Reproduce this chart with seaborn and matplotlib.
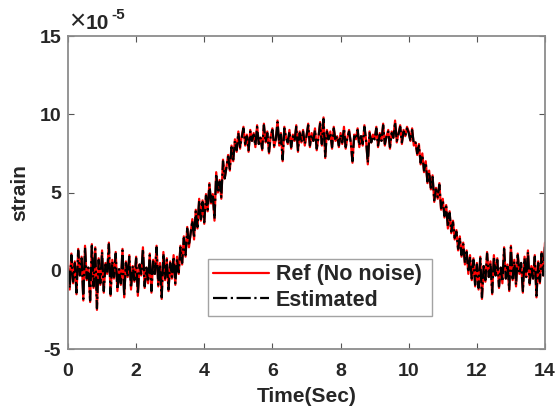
import numpy as np
import pandas as pd
import matplotlib
matplotlib.use("Agg")
import matplotlib.pyplot as plt
import seaborn as sns

# time axis: 0 .. 14 s, step 0.05 s
time_s = [round(i * 0.05, 2) for i in range(281)]

# strain values in units of 1e-5
ref_strain = [
    0.3, -1.2, 1.1, -0.8, 0.6, -1.5, 1.4, -0.3, 0.9, -1.9, 1.6, -0.6, 0.2, -2.0, 1.7, -1.1, 1.5, -2.5, 0.8, -0.9,
    1.3, -1.4, 0.5, -0.2, 1.8, -1.6, 0.7, -0.5, 1.2, -1.3, 0.1, -0.9, 1.4, -1.7, 0.6, -0.4, 1.0, -1.2, 0.3, -0.7,
    0.9, -1.6, 0.4, -0.3, 1.5, -1.1, 0.2, -0.8, 1.1, -1.4, 0.7, -0.2, 1.6, -1.0, 0.5, -1.8, 1.2, -0.6, 0.8, -1.3,
    0.6, -0.5, 1.0, -0.9, 0.9, -0.2, 1.6, 0.4, 2.2, 0.9, 2.8, 1.5, 2.4, 3.3, 2.0, 3.9, 2.7, 4.6, 3.2, 4.5,
    3.0, 4.9, 3.8, 5.6, 4.3, 4.9, 3.2, 6.3, 5.0, 5.8, 4.6, 7.1, 5.9, 6.6, 7.4, 6.4, 8.0, 7.0, 8.4, 7.6,
    8.9, 7.8, 8.6, 9.2, 8.0, 8.7, 7.6, 9.0, 8.3, 8.8, 7.9, 9.3, 8.1, 8.5, 7.7, 9.4, 8.2, 8.9, 7.5, 8.6,
    9.1, 7.9, 8.4, 9.6, 8.0, 8.8, 7.0, 9.2, 8.5, 8.1, 9.0, 7.8, 8.7, 8.3, 9.3, 7.6, 8.9, 8.2, 9.0, 8.0,
    8.6, 9.4, 7.9, 8.8, 8.3, 9.1, 7.7, 8.5, 9.5, 8.0, 9.8, 7.2, 9.0, 8.4, 8.9, 7.8, 9.2, 8.3, 8.6, 7.9,
    8.8, 8.1, 9.2, 7.8, 8.5, 9.0, 8.2, 6.9, 8.7, 8.4, 9.1, 7.9, 8.6, 8.0, 9.3, 8.3, 6.8, 8.9, 8.2, 8.7,
    8.4, 9.2, 7.9, 8.8, 8.3, 9.4, 8.0, 8.6, 9.0, 7.8, 8.9, 8.5, 9.6, 8.2, 8.8, 9.3, 8.1, 9.0, 8.6, 9.2,
    8.9, 8.3, 9.1, 8.0, 8.2, 7.4, 8.1, 6.8, 7.5, 6.3, 7.0, 5.6, 6.4, 5.2, 6.1, 4.4, 5.3, 4.6, 5.6, 3.9,
    4.6, 3.4, 4.2, 2.7, 3.8, 2.4, 3.2, 2.0, 2.6, 1.3, 2.2, 0.9, 1.8, 0.4, 1.3, -0.2, 1.0, -0.6, 0.8, -1.0,
    0.5, -1.2, 0.9, -1.8, 0.3, -0.7, 1.2, -0.4, 0.6, -1.5, 1.0, -0.3, 0.8, -1.1, 0.2, -0.8, 1.5, -0.5, 0.4, -1.3,
    1.6, -0.6, 0.7, -1.0, 1.1, -0.2, 0.5, -1.4, 0.9, -0.4, 1.3, -0.9, 0.3, -0.5, 1.0, -1.7, 0.6, -0.8, 1.2, -0.3,
    1.8,
]

est_strain = [
    0.2, -1.1, 1.0, -0.7, 0.5, -1.4, 1.3, -0.3, 0.8, -1.8, 1.5, -0.5, 0.2, -1.9, 1.6, -1.0, 1.4, -2.4, 0.7, -0.8,
    1.2, -1.3, 0.4, -0.2, 1.7, -1.5, 0.6, -0.4, 1.1, -1.2, 0.1, -0.8, 1.3, -1.6, 0.5, -0.4, 0.9, -1.1, 0.3, -0.6,
    0.8, -1.5, 0.4, -0.2, 1.4, -1.0, 0.2, -0.7, 1.0, -1.3, 0.6, -0.2, 1.5, -0.9, 0.4, -1.7, 1.1, -0.5, 0.7, -1.2,
    0.5, -0.4, 0.9, -0.8, 0.8, -0.1, 1.5, 0.5, 2.1, 1.0, 2.7, 1.6, 2.4, 3.2, 2.1, 3.8, 2.8, 4.5, 3.3, 4.4,
    3.1, 4.8, 3.9, 5.5, 4.4, 4.9, 3.3, 6.2, 5.0, 5.7, 4.7, 7.0, 5.9, 6.6, 7.3, 6.5, 7.9, 7.1, 8.3, 7.7,
    8.8, 7.9, 8.5, 9.1, 8.1, 8.6, 7.7, 8.9, 8.3, 8.7, 8.0, 9.2, 8.1, 8.5, 7.8, 9.3, 8.2, 8.8, 7.6, 8.6,
    9.0, 8.0, 8.4, 9.5, 8.1, 8.7, 7.1, 9.1, 8.5, 8.2, 8.9, 7.9, 8.6, 8.3, 9.2, 7.7, 8.8, 8.2, 8.9, 8.1,
    8.6, 9.3, 8.0, 8.7, 8.3, 9.0, 7.8, 8.5, 9.4, 8.1, 9.7, 7.3, 8.9, 8.4, 8.8, 7.9, 9.1, 8.3, 8.6, 8.0,
    8.7, 8.2, 9.1, 7.9, 8.5, 8.9, 8.2, 7.0, 8.6, 8.4, 9.0, 8.0, 8.6, 8.1, 9.2, 8.3, 6.9, 8.8, 8.2, 8.6,
    8.4, 9.1, 8.0, 8.7, 8.3, 9.3, 8.1, 8.6, 8.9, 7.9, 8.8, 8.5, 9.5, 8.3, 8.7, 9.2, 8.2, 8.9, 8.6, 9.1,
    8.8, 8.3, 9.0, 8.1, 8.2, 7.5, 8.0, 6.9, 7.4, 6.4, 6.9, 5.7, 6.3, 5.3, 6.0, 4.5, 5.2, 4.7, 5.5, 4.0,
    4.5, 3.5, 4.1, 2.8, 3.7, 2.5, 3.1, 2.1, 2.5, 1.4, 2.1, 1.0, 1.7, 0.5, 1.2, -0.1, 0.9, -0.5, 0.7, -0.9,
    0.4, -1.1, 0.8, -1.7, 0.3, -0.6, 1.1, -0.4, 0.5, -1.4, 0.9, -0.3, 0.7, -1.0, 0.2, -0.7, 1.4, -0.5, 0.4, -1.2,
    1.5, -0.5, 0.6, -0.9, 1.0, -0.2, 0.5, -1.3, 0.8, -0.4, 1.2, -0.8, 0.3, -0.5, 0.9, -1.6, 0.5, -0.7, 1.1, -0.3,
    1.6,
]

x_ticks = [0, 2, 4, 6, 8, 10, 12, 14]
y_ticks = [-5, 0, 5, 10, 15]

df = pd.DataFrame({"t": time_s, "ref": ref_strain, "est": est_strain})

sns.set_style("white")
plt.rcParams["font.family"] = ["Liberation Sans", "DejaVu Sans"]
plt.rcParams["font.weight"] = "bold"

TXT = "#262626"
fig = plt.figure(figsize=(5.6, 4.15), dpi=100)
ax = fig.add_axes([0.1214, 0.159, 0.8518, 0.7542])

sns.lineplot(data=df, x="t", y="ref", ax=ax, color="#ff0000", linewidth=1.6,
             label="Ref (No noise)", estimator=None)
sns.lineplot(data=df, x="t", y="est", ax=ax, color="black", linewidth=1.6,
             linestyle="-.", label="Estimated", estimator=None)

ax.set_xlim(0, 14)
ax.set_ylim(-5, 15)
ax.set_xticks(x_ticks)
ax.set_yticks(y_ticks)
ax.set_xticklabels([str(v) for v in x_ticks], fontsize=14, fontweight="bold", color=TXT)
ax.set_yticklabels([str(v) for v in y_ticks], fontsize=14, fontweight="bold", color=TXT)
ax.tick_params(direction="in", length=4, width=0.8, color="#555555",
               top=True, right=True, bottom=True, left=True, pad=5)
ax.tick_params(axis="x", pad=10)
for s in ax.spines.values():
    s.set_visible(True)
    s.set_color("#8c8c8c")
    s.set_linewidth(1.3)

ax.set_xlabel("Time(Sec)", fontsize=15, fontweight="bold", color=TXT, labelpad=5)
ax.set_ylabel("strain", fontsize=15, fontweight="bold", color=TXT, labelpad=7)

ax.text(0.002, 1.003, "\u00d7", transform=ax.transAxes, fontsize=20, fontweight="normal",
        color=TXT, ha="left", va="bottom")
ax.text(0.036, 1.01, "10", transform=ax.transAxes, fontsize=15, fontweight="bold",
        color=TXT, ha="left", va="bottom")
ax.text(0.09, 1.045, "-5", transform=ax.transAxes, fontsize=11, fontweight="bold",
        color=TXT, ha="left", va="bottom")

leg = ax.legend(loc="lower left", bbox_to_anchor=(0.2935, 0.105, 0.4695, 0.1985),
                mode="expand", fontsize=15.5, frameon=True, fancybox=False,
                handlelength=2.6, borderpad=0.25, labelspacing=0.2, handletextpad=0.3,
                borderaxespad=0.0)
leg.get_frame().set_edgecolor("#8c8c8c")
leg.get_frame().set_linewidth(1.0)
for t in leg.get_texts():
    t.set_fontweight("bold")
    t.set_color(TXT)

fig.savefig("out.png", dpi=100)
